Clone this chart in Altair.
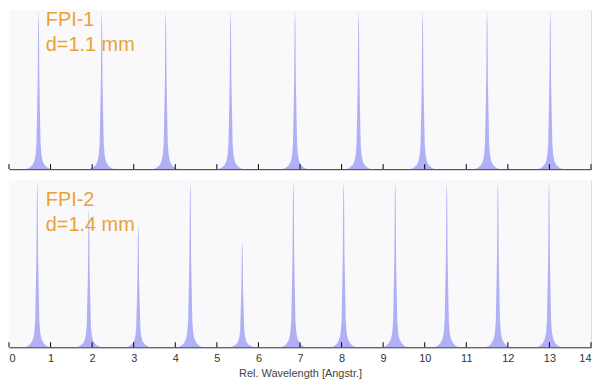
import altair as alt
import pandas as pd

# Peak centres (Angstrom) and relative peak heights
fpi1_centers = [0.71, 2.23, 3.77, 5.33, 6.88, 8.41, 9.95, 11.50, 13.02]
fpi1_heights = [1.0, 1.0, 1.0, 1.0, 1.0, 1.0, 1.0, 1.0, 1.0]
fpi2_centers = [0.68, 1.92, 3.11, 4.36, 5.61, 6.84, 8.05, 9.29, 10.53, 11.76, 12.99]
fpi2_heights = [1.0, 0.83, 0.74, 1.0, 0.64, 1.0, 1.0, 1.0, 1.0, 1.0, 1.0]

# Line shape of a single transmission peak (offset in Angstrom, relative height)
profile_offsets = [-0.30, -0.22, -0.15, -0.10, -0.07, -0.05, -0.035, -0.02, -0.01, 0.0,
                   0.01, 0.02, 0.035, 0.05, 0.07, 0.10, 0.15, 0.22, 0.30]
profile_heights = [0.0, 0.008, 0.025, 0.05, 0.09, 0.16, 0.35, 0.55, 0.9, 1.0,
                   0.9, 0.55, 0.35, 0.16, 0.09, 0.05, 0.025, 0.008, 0.0]

tick_values = list(range(0, 15))
labels_1 = ["FPI-1", "d=1.1 mm"]
labels_2 = ["FPI-2", "d=1.4 mm"]

W = 585
H1 = 160
H2 = 168
FILL = "#b0b0f6"
ORANGE = "#eba234"
BG = "#f9f9fb"


def peaks_df(centers, heights):
    rows = []
    for c, h in zip(centers, heights):
        for o, p in zip(profile_offsets, profile_heights):
            rows.append({"x": c + o, "y": h * p})
    return pd.DataFrame(rows).sort_values("x")


xscale = alt.Scale(domain=[0, 14], nice=False, zero=False)


def panel(centers, heights, labels, h, bottom, text_range):
    df = peaks_df(centers, heights)
    if bottom:
        xaxis = alt.Axis(values=tick_values, ticks=False, domainColor="black",
                         labelColor="#333333", labelFont="Liberation Sans", labelFontSize=11,
                         labelPadding=5, title="Rel. Wavelength [Angstr.]",
                         titleColor="#444444", titleFont="Liberation Sans",
                         titleFontSize=11, titleFontWeight="normal", titlePadding=4,
                         grid=False)
    else:
        xaxis = alt.Axis(values=tick_values, ticks=False, labels=False, domainColor="black",
                         title=None, grid=False)
    bg = alt.Chart(pd.DataFrame({"a": [0]})).mark_rect(color=BG).encode(
        x=alt.value(0), x2=alt.value(W), y=alt.value(0), y2=alt.value(h),
    )
    area = alt.Chart(df).mark_area(color=FILL, opacity=1, clip=True).encode(
        x=alt.X("x:Q", scale=xscale, axis=xaxis),
        y=alt.Y("y:Q", scale=alt.Scale(domain=[0, 1], nice=False), axis=None),
    )
    ticks = alt.Chart(pd.DataFrame({"t": tick_values})).mark_rule(
        color="black", strokeWidth=1).encode(
        x=alt.X("t:Q", scale=xscale),
        y=alt.value(h - 5), y2=alt.value(h),
    )
    txt = alt.Chart(pd.DataFrame({"label": labels, "i": [0, 1]})).mark_text(
        color=ORANGE, font="Liberation Sans", fontSize=20, align="left", baseline="middle"
    ).encode(
        x=alt.value(37),
        y=alt.Y("i:Q", scale=alt.Scale(domain=[0, 1], range=text_range), axis=None),
        text="label:N",
    )
    return alt.layer(bg, area, ticks, txt).properties(width=W, height=h).resolve_scale(y="independent")


top = panel(fpi1_centers, fpi1_heights, labels_1, H1, False, [10, 35])
bot = panel(fpi2_centers, fpi2_heights, labels_2, H2, True, [20, 45])

chart = alt.vconcat(top, bot, spacing=9).properties(
    padding={"left": 0, "top": 0, "right": 0, "bottom": 0}
).configure_view(strokeWidth=0).configure(background="white")

chart.save("out.html", embed_options={"renderer": "svg", "actions": False})
